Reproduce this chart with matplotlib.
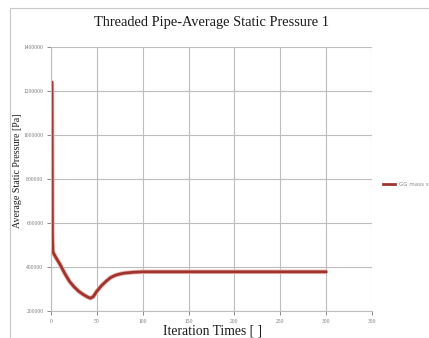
import numpy as np
import matplotlib.pyplot as plt
from matplotlib.patches import Rectangle

# values
iters = [1, 1.5, 2, 3, 5, 10, 15, 20, 25, 30, 35, 40, 43, 46, 50, 55, 60, 65, 70,
         75, 80, 90, 100, 120, 150, 200, 250, 300]
pressure = [1240000, 540000, 470000, 460000, 445000, 410000, 370000, 335000, 310000,
            290000, 275000, 263000, 258000, 265000, 290000, 315000, 335000, 352000,
            362000, 368000, 372000, 376000, 378000, 378000, 378000, 378000, 378000, 378000]

xticks = [0, 50, 100, 150, 200, 250, 300, 350]
yticks = [200000, 400000, 600000, 800000, 1000000, 1200000, 1400000]

fig = plt.figure(figsize=(4.29, 3.38), dpi=100)
fig.patches.append(Rectangle((0.023, -0.01), 0.98, 0.985, transform=fig.transFigure,
                             fill=False, edgecolor='#c8c8c8', linewidth=0.8))
ax = fig.add_axes([0.119, 0.080, 0.748, 0.781])

ax.plot(iters, pressure, color='#f0b0a8', linewidth=3.2, solid_capstyle='butt')
line, = ax.plot(iters, pressure, color='#9e3430', linewidth=2.0, label='GG mass static pre')

ax.set_xlim(0, 350)
ax.set_ylim(200000, 1400000)
ax.set_xticks(xticks)
ax.set_yticks(yticks)
ax.set_xticklabels([str(t) for t in xticks], family='Liberation Serif')
ax.set_yticklabels([str(t) for t in yticks], family='Liberation Serif')
ax.tick_params(labelsize=4, colors='#777777', length=3, width=0.6, pad=2.5)
ax.grid(True, color='#bdbdbd', linewidth=0.8)
for s in ['top', 'right']:
    ax.spines[s].set_visible(False)
for s in ['left', 'bottom']:
    ax.spines[s].set_color('#bdbdbd')

ax.set_title('Threaded Pipe-Average Static Pressure 1', fontsize=10.4,
             family='Liberation Serif', color='#1a1a1a', pad=15)
fig.text(0.495, 0.022, 'Iteration Times [ ]', fontsize=9.8, family='Liberation Serif',
         color='#1a1a1a', ha='center', va='center')
fig.text(0.040, 0.495, 'Average Static Pressure [Pa]', fontsize=7.2, family='Liberation Serif',
         color='#1a1a1a', ha='center', va='center', rotation=90)

fig.legend(handles=[line], loc='center left', bbox_to_anchor=(0.88, 0.455),
           frameon=False, fontsize=4, handlelength=2.2, labelcolor='#888888')

fig.savefig('out.png', dpi=100)
